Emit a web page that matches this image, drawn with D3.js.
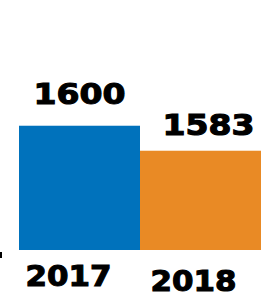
<!DOCTYPE html>
<html>
<head>
<meta charset="utf-8">
<script src="https://cdn.jsdelivr.net/npm/d3@7"></script>
<style>
    html, body { margin: 0; padding: 0; background: #fff; }
    svg { display: block; }
    .lbl { font-family: "DejaVu Sans", sans-serif; font-weight: bold; fill: #000; stroke: #000; stroke-width: 1.1; }
</style>
</head>
<body>
<div id="chart"></div>
<script>
// Chart data
const years = ['2017', '2018'];
const counts = [1600, 1583];
const colors = ['#0072bc', '#e98a25'];

const width = 261, height = 295;

const svg = d3.select('#chart').append('svg')
    .attr('width', width)
    .attr('height', height);

// axis does not start at zero in the original
const x = d3.scaleBand()
    .domain(years)
    .range([19, 261])
    .padding(0);

const y = d3.scaleLinear()
    .domain([1515.5, 1685.5])
    .range([250, 0]);

// Bars
svg.selectAll('rect.bar')
    .data(years)
    .join('rect')
    .attr('class', 'bar')
    .attr('x', d => x(d))
    .attr('width', x.bandwidth())
    .attr('y', (d, i) => y(counts[i]))
    .attr('height', (d, i) => y.range()[0] - y(counts[i]))
    .attr('fill', (d, i) => colors[i]);

// little tick at the left edge
svg.append('line')
    .attr('x1', 1).attr('x2', 1)
    .attr('y1', 252).attr('y2', 258)
    .attr('stroke', '#000')
    .attr('stroke-width', 2);

// Value labels (shifted a bit like the source)
const valDx = [0, 8];
const valDy = [-22, -15.5];
svg.selectAll('text.val')
    .data(counts)
    .join('text')
    .attr('class', 'lbl val')
    .attr('x', (d, i) => x(years[i]) + x.bandwidth() / 2 + valDx[i])
    .attr('y', (d, i) => y(d) + valDy[i])
    .attr('text-anchor', 'middle')
    .attr('font-size', 29)
    .attr('textLength', 92)
    .attr('lengthAdjust', 'spacingAndGlyphs')
    .text(d => d);

// Year labels
const yearDx = [-11, -7];
const yearBase = [286, 291];
svg.selectAll('text.year')
    .data(years)
    .join('text')
    .attr('class', 'lbl year')
    .attr('x', (d, i) => x(d) + x.bandwidth() / 2 + yearDx[i])
    .attr('y', (d, i) => yearBase[i])
    .attr('text-anchor', 'middle')
    .attr('font-size', 29)
    .attr('textLength', 86)
    .attr('lengthAdjust', 'spacingAndGlyphs')
    .text(d => d);
</script>
</body>
</html>
